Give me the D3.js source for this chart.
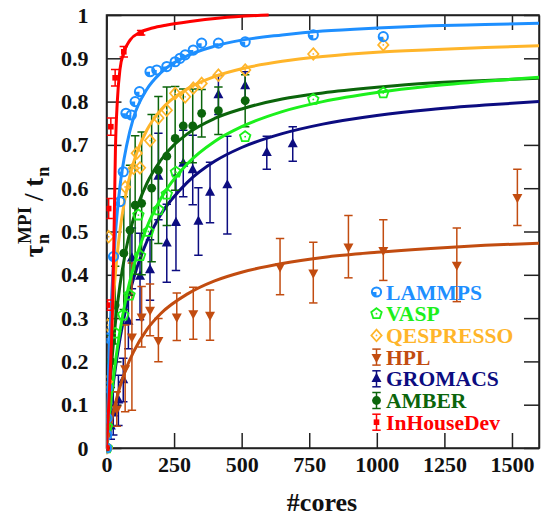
<!DOCTYPE html>
<html><head><meta charset="utf-8">
<script src="https://cdn.jsdelivr.net/npm/d3@7"></script>
<style>
body{margin:0;background:#fff}
svg{display:block}
svg text{font-family:"Liberation Serif","Times New Roman",Times,"DejaVu Serif",serif !important;font-weight:bold}
</style>
</head><body>
<svg id="chart" width="542" height="516"></svg>
<script>
// ---------- data ----------
const xTickValues = [0, 250, 500, 750, 1000, 1250, 1500];
const xTickLabels = ["0", "250", "500", "750", "1000", "1250", "1500"];
const yTickValues = [0, 0.1, 0.2, 0.3, 0.4, 0.5, 0.6, 0.7, 0.8, 0.9, 1];
const yTickLabels = ["0", "0.1", "0.2", "0.3", "0.4", "0.5", "0.6", "0.7", "0.8", "0.9", "1"];

const seriesNames = ["LAMMPS", "VASP", "QESPRESSO", "HPL", "GROMACS", "AMBER", "InHouseDev"];

// measured points
const lammpsCores = [0, 1, 2, 3, 5, 26, 50, 62, 72, 92, 106, 122, 161, 186, 223, 254, 272, 291, 321, 352, 414, 513, 765, 1024];
const lammpsVals  = [0, 0.03, 0.069, 0.139, 0.254, 0.442, 0.569, 0.638, 0.773, 0.769, 0.80, 0.823, 0.869, 0.873, 0.881, 0.892, 0.90, 0.908, 0.919, 0.935, 0.935, 0.938, 0.954, 0.950];

const vaspCores = [1, 2, 32, 62, 85, 118, 124, 155, 192, 223, 257, 513, 765, 1024];
const vaspVals  = [0, 0.049, 0.265, 0.307, 0.353, 0.538, 0.444, 0.50, 0.55, 0.586, 0.637, 0.719, 0.805, 0.82];

const qespressoCores = [1, 2, 4, 8, 69, 100, 112, 124, 161, 192, 223, 254, 291, 321, 352, 414, 513, 765, 1024];
const qespressoVals  = [0, 0.153, 0.284, 0.488, 0.603, 0.646, 0.681, 0.647, 0.71, 0.762, 0.78, 0.819, 0.811, 0.831, 0.842, 0.861, 0.873, 0.91, 0.931];

const hplCores = [1, 38, 69, 94, 130, 161, 192, 260, 321, 383, 642, 765, 895, 1024, 1296, 1520];
const hplVals  = [0, 0.09, 0.184, 0.257, 0.303, 0.319, 0.249, 0.303, 0.311, 0.307, 0.419, 0.405, 0.465, 0.457, 0.423, 0.579];
const hplErr   = [0, 0.04, 0.10, 0.17, 0.07, 0.06, 0.05, 0.055, 0.06, 0.058, 0.065, 0.07, 0.072, 0.07, 0.085, 0.065];

const gromacsCores = [1, 16, 25, 44, 62, 81, 94, 124, 161, 192, 223, 257, 284, 319, 340, 383, 414, 447, 513, 593, 689];
const gromacsVals  = [0, 0.05, 0.08, 0.11, 0.157, 0.292, 0.438, 0.396, 0.411, 0.627, 0.473, 0.52, 0.657, 0.642, 0.523, 0.59, 0.815, 0.607, 0.836, 0.682, 0.702];
const gromacsErr   = [0, 0.03, 0.05, 0.058, 0.05, 0.063, 0.07, 0.10, 0.07, 0.10, 0.09, 0.11, 0.077, 0.08, 0.078, 0.07, 0.045, 0.113, 0.033, 0.038, 0.04];

const amberCores = [1, 16, 32, 64, 87, 106, 130, 167, 192, 223, 254, 284, 319, 352, 414, 513];
const amberVals  = [0, 0.2, 0.33, 0.45, 0.503, 0.561, 0.565, 0.6, 0.642, 0.674, 0.715, 0.744, 0.744, 0.773, 0.779, 0.802];
const amberErr   = [0, 0.06, 0.09, 0.13, 0.15, 0.16, 0.165, 0.17, 0.17, 0.16, 0.12, 0.085, 0.085, 0.055, 0.055, 0.06];

const inhouseCores = [1, 4, 8, 16, 32, 64, 128];
const inhouseVals  = [0, 0.33, 0.553, 0.742, 0.855, 0.915, 0.959];
const inhouseErr   = [0, 0.012, 0.023, 0.02, 0.019, 0.012, 0.005];

// fitted curves
const fitCores = [0, 5, 10, 20, 35, 50, 75, 100, 150, 200, 300, 400, 500, 650, 800, 1000, 1200, 1400, 1600];
const fitLAMMPS    = [0, 0.12, 0.22, 0.36, 0.51, 0.605, 0.70, 0.763, 0.829, 0.866, 0.906, 0.928, 0.942, 0.954, 0.963, 0.970, 0.975, 0.978, 0.981];
const fitQESPRESSO = [0, 0.0955, 0.174, 0.294, 0.418, 0.503, 0.597, 0.659, 0.735, 0.780, 0.830, 0.858, 0.876, 0.893, 0.904, 0.914, 0.920, 0.925, 0.929];
const fitVASP      = [0, 0.0368, 0.0708, 0.131, 0.208, 0.271, 0.354, 0.418, 0.511, 0.575, 0.657, 0.708, 0.742, 0.777, 0.80, 0.821, 0.836, 0.847, 0.856];
const fitAMBER     = [0, 0.061, 0.114, 0.202, 0.302, 0.377, 0.467, 0.530, 0.612, 0.664, 0.726, 0.761, 0.783, 0.806, 0.820, 0.833, 0.843, 0.849, 0.854];
const fitGROMACS   = [0, 0.0344, 0.0662, 0.123, 0.194, 0.253, 0.331, 0.391, 0.478, 0.538, 0.614, 0.662, 0.694, 0.726, 0.748, 0.768, 0.782, 0.792, 0.80];
const fitHPL       = [0, 0.0189, 0.0365, 0.0681, 0.108, 0.142, 0.187, 0.222, 0.274, 0.310, 0.356, 0.386, 0.406, 0.426, 0.440, 0.452, 0.461, 0.468, 0.473];
const fitInHouseCores = [0, 10, 23, 28, 33, 40, 50, 65, 87, 124, 170, 224, 309, 420, 600];
const fitInHouse      = [0, 0.12, 0.342, 0.5, 0.688, 0.8, 0.875, 0.915, 0.942, 0.96, 0.97, 0.977, 0.985, 0.993, 1.0];

const colors = {
  LAMMPS: "#1e8fff", VASP: "#1cf01c", QESPRESSO: "#ffb52a", HPL: "#c24c10",
  GROMACS: "#0c0c80", AMBER: "#0b650b", InHouseDev: "#ff0000"
};

const FONT = "'Liberation Serif','Times New Roman',Times,'DejaVu Serif',serif";

// ---------- setup ----------
const svg = d3.select("#chart");
const L = 106.5, R = 539, T = 15, B = 448;
const x = d3.scaleLinear().domain([0, 1600]).range([L, R]);
const y = d3.scaleLinear().domain([0, 1]).range([B, T]);
const axisColor = "#222";

svg.append("defs").append("clipPath").attr("id", "clip")
  .append("rect").attr("x", L).attr("y", T - 8).attr("width", R - L).attr("height", B - T + 16);

function styleAxis(g) {
  g.attr("font-family", FONT).attr("font-size", 22).attr("font-weight", "bold");
  g.selectAll("path").attr("stroke", axisColor).attr("stroke-width", 1.5);
  g.selectAll("line").attr("stroke", axisColor).attr("stroke-width", 1.5);
  g.selectAll("text").attr("fill", "#111").attr("font-size", 22)
    .attr("font-family", FONT).attr("font-weight", "bold");
}

svg.append("g").attr("transform", `translate(0,${B})`)
  .call(d3.axisBottom(x).tickValues(xTickValues).tickFormat((d, i) => xTickLabels[i]).tickSize(-15).tickSizeOuter(0).tickPadding(8))
  .call(styleAxis);
svg.append("g").attr("transform", `translate(0,${T})`)
  .call(d3.axisTop(x).tickValues(xTickValues).tickFormat("").tickSize(-15).tickSizeOuter(0))
  .call(styleAxis);
svg.append("g").attr("transform", `translate(${L},0)`)
  .call(d3.axisLeft(y).tickValues(yTickValues).tickFormat((d, i) => yTickLabels[i]).tickSize(-15).tickSizeOuter(0).tickPadding(18))
  .call(styleAxis);
svg.append("g").attr("transform", `translate(${R},0)`)
  .call(d3.axisRight(y).tickValues(yTickValues).tickFormat("").tickSize(-15).tickSizeOuter(0))
  .call(styleAxis);

svg.append("rect").attr("x", L).attr("y", T).attr("width", R - L).attr("height", B - T)
  .attr("fill", "none").attr("stroke", axisColor).attr("stroke-width", 1.5);

// ---------- markers ----------
function marker(g, type, color, cx, cy) {
  if (type === "circleQ") {
    const r = 4.6;
    g.append("circle").attr("cx", cx).attr("cy", cy).attr("r", r).attr("fill", "none")
      .attr("stroke", color).attr("stroke-width", 2);
    g.append("path").attr("d", `M${cx},${cy} L${cx - r},${cy} A${r},${r} 0 0,0 ${cx},${cy + r} Z`).attr("fill", color);
  } else if (type === "pentagon") {
    const r = 5.5;
    const pts = d3.range(5).map(k => {
      const a = -Math.PI / 2 + k * 2 * Math.PI / 5;
      return [cx + r * Math.cos(a), cy + r * Math.sin(a)];
    });
    g.append("polygon").attr("points", pts.map(p => p.join(",")).join(" "))
      .attr("fill", "none").attr("stroke", color).attr("stroke-width", 1.8);
    g.append("circle").attr("cx", cx).attr("cy", cy).attr("r", 0.9).attr("fill", color);
  } else if (type === "diamond") {
    g.append("polygon").attr("points", `${cx},${cy - 5.8} ${cx + 5.2},${cy} ${cx},${cy + 5.8} ${cx - 5.2},${cy}`)
      .attr("fill", "none").attr("stroke", color).attr("stroke-width", 1.7);
    g.append("circle").attr("cx", cx).attr("cy", cy).attr("r", 0.9).attr("fill", color);
  } else if (type === "triUp") {
    g.append("polygon").attr("points", `${cx},${cy - 6} ${cx + 5},${cy + 3.2} ${cx - 5},${cy + 3.2}`).attr("fill", color);
  } else if (type === "triDown") {
    g.append("polygon").attr("points", `${cx},${cy + 6} ${cx + 5},${cy - 3.2} ${cx - 5},${cy - 3.2}`).attr("fill", color);
  } else if (type === "dot") {
    g.append("circle").attr("cx", cx).attr("cy", cy).attr("r", 4.4).attr("fill", color);
  } else if (type === "square") {
    g.append("rect").attr("x", cx - 2.8).attr("y", cy - 2.8).attr("width", 5.6).attr("height", 5.6).attr("fill", color);
  }
}

function errbar(g, color, cx, y1, y2) {
  const cw = 4.2;
  g.append("line").attr("x1", cx).attr("x2", cx).attr("y1", y1).attr("y2", y2).attr("stroke", color).attr("stroke-width", 1.5);
  g.append("line").attr("x1", cx - cw).attr("x2", cx + cw).attr("y1", y1).attr("y2", y1).attr("stroke", color).attr("stroke-width", 1.5);
  g.append("line").attr("x1", cx - cw).attr("x2", cx + cw).attr("y1", y2).attr("y2", y2).attr("stroke", color).attr("stroke-width", 1.5);
}

const lineGen = d3.line().x(d => x(d[0])).y(d => y(d[1])).curve(d3.curveMonotoneX);
const plot = svg.append("g").attr("clip-path", "url(#clip)");

const series = [
  { name: "GROMACS", cores: gromacsCores, vals: gromacsVals, err: gromacsErr, m: "triUp", fx: fitCores, fy: fitGROMACS },
  { name: "HPL", cores: hplCores, vals: hplVals, err: hplErr, m: "triDown", fx: fitCores, fy: fitHPL },
  { name: "AMBER", cores: amberCores, vals: amberVals, err: amberErr, m: "dot", fx: fitCores, fy: fitAMBER },
  { name: "VASP", cores: vaspCores, vals: vaspVals, err: null, m: "pentagon", fx: fitCores, fy: fitVASP },
  { name: "QESPRESSO", cores: qespressoCores, vals: qespressoVals, err: null, m: "diamond", fx: fitCores, fy: fitQESPRESSO },
  { name: "LAMMPS", cores: lammpsCores, vals: lammpsVals, err: null, m: "circleQ", fx: fitCores, fy: fitLAMMPS },
  { name: "InHouseDev", cores: inhouseCores, vals: inhouseVals, err: inhouseErr, m: "square", fx: fitInHouseCores, fy: fitInHouse }
];

series.forEach(s => {
  const c = colors[s.name];
  const g = plot.append("g");
  s.cores.forEach((cx, i) => {
    if (s.err && s.err[i] > 0) errbar(g, c, x(cx), y(s.vals[i] + s.err[i]), y(s.vals[i] - s.err[i]));
  });
  g.append("path").datum(s.fx.map((v, i) => [v, s.fy[i]]))
    .attr("d", lineGen).attr("fill", "none").attr("stroke", c).attr("stroke-width", 3);
  s.cores.forEach((cx, i) => marker(g, s.m, c, x(cx), y(s.vals[i])));
});

// ---------- legend ----------
const legend = svg.append("g").attr("font-family", FONT).attr("font-weight", "bold");
const legendMarkers = { LAMMPS: "circleQ", VASP: "pentagon", QESPRESSO: "diamond", HPL: "triDown", GROMACS: "triUp", AMBER: "dot", InHouseDev: "square" };
const legendErr = { HPL: true, GROMACS: true, AMBER: true, InHouseDev: true };
seriesNames.forEach((n, i) => {
  const cy = 292 + i * 21.7, cx = 376.5;
  const c = colors[n];
  if (legendErr[n]) errbar(legend, c, cx, cy - 8, cy + 8);
  marker(legend, legendMarkers[n], c, cx, cy);
  legend.append("text").attr("x", 386).attr("y", cy + 7.5).attr("fill", c).attr("font-size", 21.6)
    .attr("font-family", FONT).text(n);
});

// ---------- axis titles ----------
svg.append("text").attr("x", 322).attr("y", 511).attr("text-anchor", "middle")
  .attr("font-size", 26).attr("font-family", FONT).attr("fill", "#111").text("#cores");

const yl = svg.append("g").attr("transform", "translate(43,212) rotate(-90)")
  .attr("fill", "#111").attr("font-family", FONT).attr("font-weight", "bold");
const inner = yl.append("g");
function addText(par, str, px, py, size) {
  return par.append("text").attr("x", px).attr("y", py).attr("font-size", size).attr("font-family", FONT).text(str);
}
const tTau = addText(inner, "τ", 0, 0, 27);
const wTau = tTau.node().getComputedTextLength();
const tSub = addText(inner, "n", wTau + 1, 6, 18);
const tSup = addText(inner, "MPI", wTau + 1, -12, 19);
const wStack = Math.max(tSub.node().getComputedTextLength(), tSup.node().getComputedTextLength());
const tSlash = addText(inner, "/ t", wTau + 1 + wStack + 6, 0, 27);
const wSlash = tSlash.node().getComputedTextLength();
const tSub2 = addText(inner, "n", wTau + 1 + wStack + 6 + wSlash + 1, 6, 18);
const total = wTau + 1 + wStack + 6 + wSlash + 1 + tSub2.node().getComputedTextLength();
inner.attr("transform", `translate(${-total / 2},0)`);
</script>
</body></html>
